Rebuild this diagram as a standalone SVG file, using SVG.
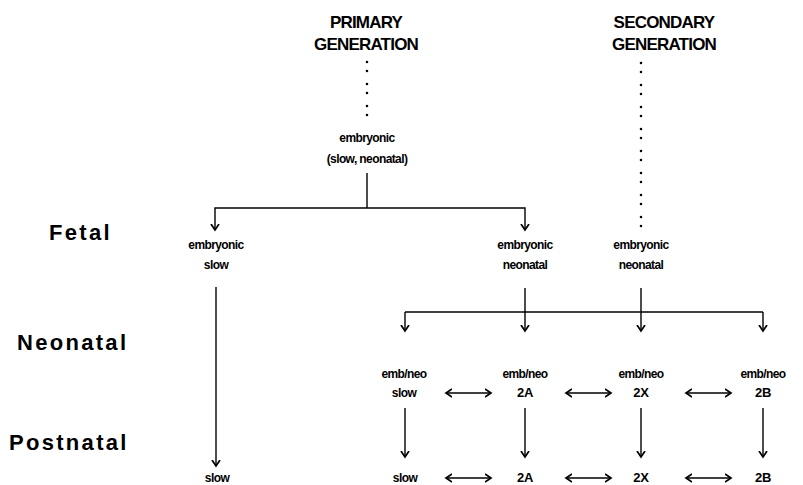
<svg xmlns="http://www.w3.org/2000/svg" width="803" height="485" viewBox="0 0 803 485">
<defs>
<style>
.t{font-family:"Liberation Sans",Arial,sans-serif;font-weight:bold;fill:#000;text-anchor:middle}
.s{font-size:12px;letter-spacing:-0.6px}
.n{font-size:13px;letter-spacing:-0.3px}
.h{font-size:17px;letter-spacing:-0.8px}
.lab{font-family:"Liberation Sans",Arial,sans-serif;font-weight:bold;font-size:22px;letter-spacing:2.3px;fill:#000}
.ln{stroke:#000;stroke-width:1.4;fill:none}
.dot{stroke:#000;stroke-width:2.6;stroke-linecap:round;stroke-dasharray:0 9 0 13;fill:none}
</style>
<marker id="ah" markerUnits="userSpaceOnUse" markerWidth="12" markerHeight="12" viewBox="-6 -6 12 12" refX="0" refY="0" orient="auto-start-reverse">
<path d="M-6,-4 L0,0 L-6,4" fill="none" stroke="#000" stroke-width="1.7"/>
</marker>
</defs>

<g id="labels">
<text class="lab" x="49" y="240">Fetal</text>
<text class="lab" x="17" y="350">Neonatal</text>
<text class="lab" x="9" y="450">Postnatal</text>
</g>

<g id="primary-generation">
<text class="t h" x="366" y="28">PRIMARY</text>
<text class="t h" x="366" y="50">GENERATION</text>
</g>
<g id="secondary-generation">
<text class="t h" x="664" y="28">SECONDARY</text>
<text class="t h" x="664" y="50">GENERATION</text>
</g>

<g id="embryonic-primary">
<text class="t s" x="367" y="142">embryonic</text>
<text class="t s" x="367" y="163">(slow, neonatal)</text>
</g>
<g id="fetal-embryonic-slow">
<text class="t s" x="216" y="249">embryonic</text>
<text class="t s" x="216" y="269">slow</text>
</g>
<g id="fetal-embryonic-neonatal">
<text class="t s" x="525" y="249">embryonic</text>
<text class="t s" x="525" y="269">neonatal</text>
</g>
<g id="fetal-secondary-embryonic-neonatal">
<text class="t s" x="641" y="249">embryonic</text>
<text class="t s" x="641" y="269">neonatal</text>
</g>

<g id="neo-slow">
<text class="t s" x="404" y="378">emb/neo</text>
<text class="t s" x="404" y="397">slow</text>
</g>
<g id="neo-2A">
<text class="t s" x="525" y="378">emb/neo</text>
<text class="t n" x="525" y="397">2A</text>
</g>
<g id="neo-2X">
<text class="t s" x="641" y="378">emb/neo</text>
<text class="t n" x="641" y="397">2X</text>
</g>
<g id="neo-2B">
<text class="t s" x="763" y="378">emb/neo</text>
<text class="t n" x="763" y="397">2B</text>
</g>

<g id="post-slow-1"><text class="t s" x="217" y="482">slow</text></g>
<g id="post-slow-2"><text class="t s" x="405" y="482">slow</text></g>
<g id="post-2A"><text class="t n" x="525" y="482">2A</text></g>
<g id="post-2X"><text class="t n" x="641" y="482">2X</text></g>
<g id="post-2B"><text class="t n" x="763" y="482">2B</text></g>

<g id="connectors">
<line class="dot" x1="367" y1="62" x2="367" y2="118"/>
<line class="dot" x1="641" y1="63" x2="641" y2="234"/>

<line class="ln" x1="367" y1="173" x2="367" y2="208"/>
<polyline class="ln" points="215,230 215,208 525,208 525,230" marker-start="url(#ah)" marker-end="url(#ah)"/>

<line class="ln" x1="216" y1="287" x2="216" y2="466" marker-end="url(#ah)"/>

<line class="ln" x1="525" y1="288" x2="525" y2="312"/>
<line class="ln" x1="641" y1="288" x2="641" y2="312"/>
<line class="ln" x1="405" y1="312" x2="763" y2="312"/>
<line class="ln" x1="405" y1="312" x2="405" y2="331" marker-end="url(#ah)"/>
<line class="ln" x1="525" y1="312" x2="525" y2="331" marker-end="url(#ah)"/>
<line class="ln" x1="641" y1="312" x2="641" y2="331" marker-end="url(#ah)"/>
<line class="ln" x1="763" y1="312" x2="763" y2="331" marker-end="url(#ah)"/>

<line class="ln" x1="446" y1="393" x2="491" y2="393" marker-start="url(#ah)" marker-end="url(#ah)"/>
<line class="ln" x1="566" y1="393" x2="611" y2="393" marker-start="url(#ah)" marker-end="url(#ah)"/>
<line class="ln" x1="686" y1="393" x2="731" y2="393" marker-start="url(#ah)" marker-end="url(#ah)"/>

<line class="ln" x1="405" y1="408" x2="405" y2="457" marker-end="url(#ah)"/>
<line class="ln" x1="525" y1="408" x2="525" y2="457" marker-end="url(#ah)"/>
<line class="ln" x1="641" y1="408" x2="641" y2="457" marker-end="url(#ah)"/>
<line class="ln" x1="763" y1="408" x2="763" y2="457" marker-end="url(#ah)"/>

<line class="ln" x1="446" y1="478" x2="491" y2="478" marker-start="url(#ah)" marker-end="url(#ah)"/>
<line class="ln" x1="566" y1="478" x2="611" y2="478" marker-start="url(#ah)" marker-end="url(#ah)"/>
<line class="ln" x1="686" y1="478" x2="731" y2="478" marker-start="url(#ah)" marker-end="url(#ah)"/>
</g>
</svg>
